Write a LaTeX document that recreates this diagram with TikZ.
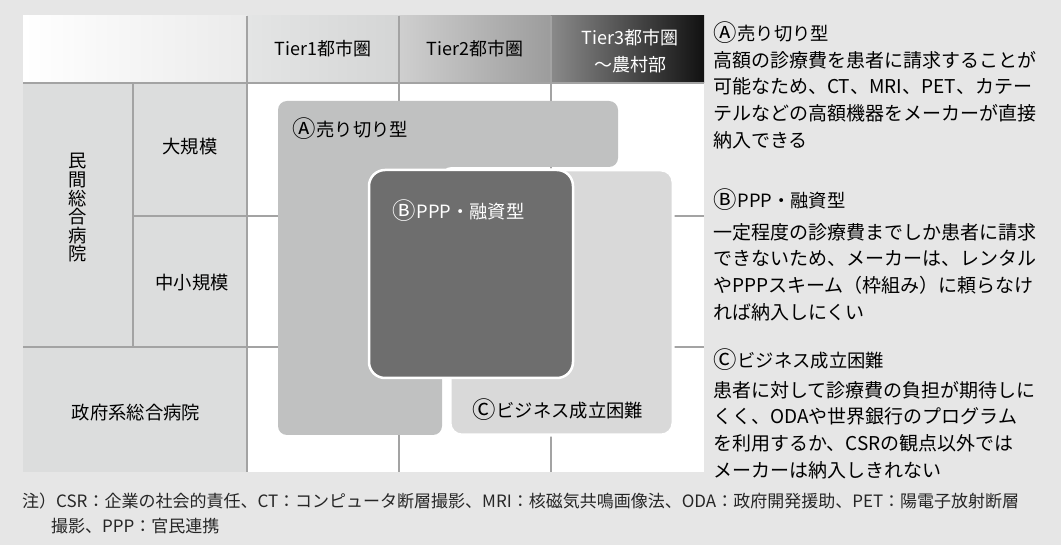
\documentclass[tikz,border=0pt]{standalone}
\usepackage{graphicx}
\usepackage{fontspec}
\setmainfont{Noto Sans CJK JP}
\newfontfamily\jpfont{Noto Sans CJK JP}
\newcommand{\circled}[1]{\raisebox{-0.08em}{\scalebox{1.28}{#1}}\hspace{0.05em}}
\definecolor{bg}{HTML}{E6E6E6}
\definecolor{cellgray}{HTML}{DCDDDD}
\definecolor{gridline}{HTML}{A3A3A3}
\definecolor{boxA}{HTML}{C0C1C1}
\definecolor{boxB}{HTML}{6E6E6E}
\definecolor{boxC}{HTML}{D9D9D9}
\definecolor{hA}{HTML}{EBEBEB}
\definecolor{hB}{HTML}{E4E5E5}
\definecolor{hC}{HTML}{D4D5D5}
\definecolor{hD}{HTML}{CFCFCF}
\definecolor{hE}{HTML}{9C9C9C}
\definecolor{hF}{HTML}{8A8A8A}
\definecolor{hG}{HTML}{111111}
\begin{document}
\begin{tikzpicture}[x=1pt,y=-1pt,
  lbl/.style={font=\jpfont\fontsize{18.3}{20}\selectfont, text=black, inner sep=0pt},
  hdr/.style={font=\jpfont\fontsize{18}{27}\selectfont, text=black, inner sep=0pt, align=center},
  rt/.style={font=\jpfont\fontsize{19}{26}\selectfont, text=black, inner sep=0pt, anchor=west},
  rh/.style={font=\jpfont\fontsize{18.3}{26}\selectfont, text=black, inner sep=0pt, anchor=west},
  fn/.style={font=\jpfont\fontsize{17}{20}\selectfont, text=black!85, inner sep=0pt, anchor=west},
  grid/.style={draw=gridline, line width=1.1pt}]
\useasboundingbox (0,0) rectangle (1061,545);
\fill[bg] (0,0) rectangle (1061,545);
% header row
\shade[left color=white, right color=hA] (23,16) rectangle (247,83);
\shade[left color=hB, right color=hC] (247,16) rectangle (399,83);
\shade[left color=hD, right color=hE] (399,16) rectangle (551,83);
\shade[left color=hF, right color=hG] (551,16) rectangle (704,83);
% body
\fill[cellgray] (23,83) rectangle (247,472);
\fill[white] (247,83) rectangle (704,472);
\draw[grid] (247,16) -- (247,472);
\draw[grid] (399,16) -- (399,472);
\draw[grid] (551,16) -- (551,472);
\draw[grid] (133,83) -- (133,347);
\draw[grid] (133,216) -- (704,216);
\draw[grid] (23,347) -- (704,347);
\draw[draw=gridline, line width=2pt] (23,83) -- (704,83);
% region boxes
\fill[boxA, rounded corners=9] (278,268) |- (618,101) -- (618,167) -- (442,167) -- (442,435) -- (278,435) -- cycle;
\filldraw[fill=boxC, draw=white, line width=3pt, rounded corners=12] (450,170) rectangle (673,435);
\filldraw[fill=boxB, draw=white, line width=2.5pt, rounded corners=16] (369,170) rectangle (573,378);
% header texts
\node[hdr] (t1) at (323,49) {Tier1都市圏};
\node[hdr] (t2) at (475,49) {Tier2都市圏};
\node[hdr, text=white] (t3) at (630,51) {Tier3都市圏\\～農村部};
% row labels
\node[lbl] (big) at (190,147) {大規模};
\node[lbl] (small) at (192,283) {中小規模};
\node[lbl] (gov) at (136,413) {政府系総合病院};
\node[lbl, align=center, font=\jpfont\fontsize{18.3}{18.6}\selectfont] (priv) at (78,208) {民\\間\\総\\合\\病\\院};
% box labels
\node[lbl, anchor=west] (labA) at (292,129) {\circled{Ⓐ}売り切り型};
\node[lbl, anchor=west, text=white] (labB) at (392,211) {\circled{Ⓑ}PPP・融資型};
\node[lbl, anchor=west] (labC) at (472,410) {\circled{Ⓒ}ビジネス成立困難};
% right explanations
\node[rh] (hAr) at (713,33) {\circled{Ⓐ}売り切り型};
\node[rt] (a1) at (713,60) {高額の診療費を患者に請求することが};
\node[rt] (a2) at (713,86.6) {可能なため、CT、MRI、PET、カテー};
\node[rt] (a3) at (713,113.2) {テルなどの高額機器をメーカーが直接};
\node[rt] (a4) at (713,139.8) {納入できる};
\node[rh] (hBr) at (713,200) {\circled{Ⓑ}PPP・融資型};
\node[rt] (b1) at (713,232) {一定程度の診療費までしか患者に請求};
\node[rt] (b2) at (713,258.6) {できないため、メーカーは、レンタル};
\node[rt] (b3) at (713,285.2) {やPPPスキーム（枠組み）に頼らなけ};
\node[rt] (b4) at (713,311.8) {れば納入しにくい};
\node[rh] (hCr) at (713,360) {\circled{Ⓒ}ビジネス成立困難};
\node[rt] (c1) at (713,390) {患者に対して診療費の負担が期待しに};
\node[rt] (c2) at (713,416.6) {くく、ODAや世界銀行のプログラム};
\node[rt] (c3) at (713,443.2) {を利用するか、CSRの観点以外では};
\node[rt] (c4) at (713,469.8) {メーカーは納入しきれない};
% footnote
\node[fn] (n1) at (22,501) {注）CSR：企業の社会的責任、CT：コンピュータ断層撮影、MRI：核磁気共鳴画像法、ODA：政府開発援助、PET：陽電子放射断層};
\node[fn] (n2) at (51,526) {撮影、PPP：官民連携};
\end{tikzpicture}
\end{document}
